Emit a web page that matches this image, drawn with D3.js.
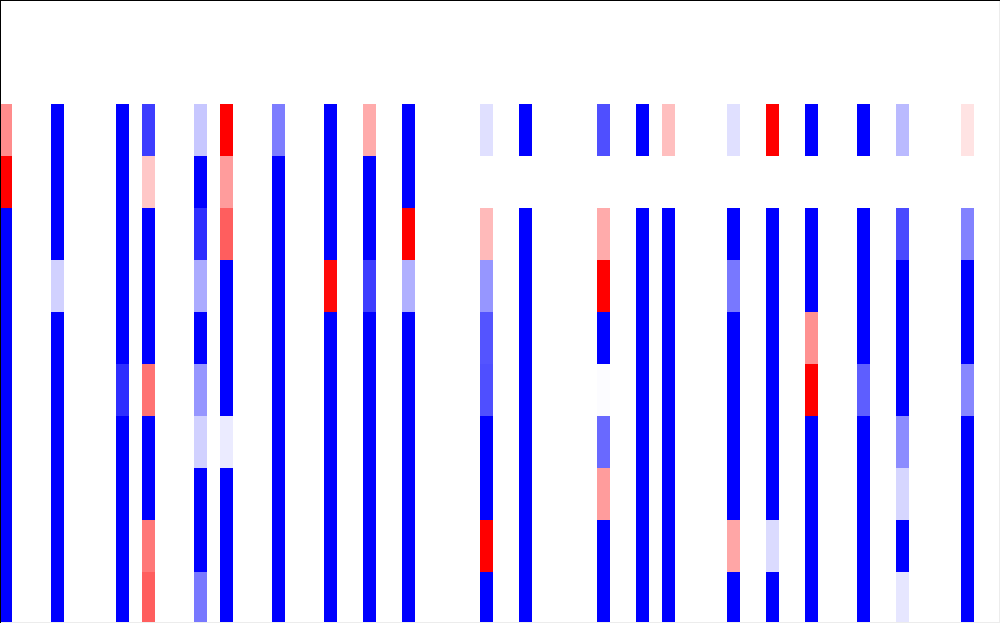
<!DOCTYPE html>
<html>
<head>
<meta charset="utf-8">
<script src="https://cdn.jsdelivr.net/npm/d3@7"></script>
<style>
  html, body { margin: 0; padding: 0; background: #fff; overflow: hidden; }
</style>
</head>
<body>
<div class="svg-content"></div>
<script>
// column slots (77 in all, most of them empty) and row slots (12)
const columnCount = 77;
const rowCount = 12;

// slots that hold data
const columns = [0, 4, 9, 11, 15, 17, 21, 25, 28, 31, 37, 40, 46, 49, 51, 56, 59, 62, 66, 69, 74];
const rows = [2, 3, 4, 5, 6, 7, 8, 9, 10, 11];

// one list per column, one value per row (null = no cell)
const values = [
  [0.45, 1, -1, -1, -1, -1, -1, -1, -1, -1],
  [-1, -1, -1, -0.18, -1, -1, -1, -1, -1, -1],
  [-1, -1, -1, -1, -1, -0.82, -1, -1, -1, -1],
  [-0.76, 0.22, -1, -1, -1, 0.55, -1, -1, 0.53, 0.63],
  [-0.22, -1, -0.82, -0.33, -1, -0.41, -0.18, -1, -1, -0.53],
  [1, 0.39, 0.63, -1, -1, -1, -0.08, -1, -1, -1],
  [-0.51, -1, -1, -1, -1, -1, -1, -1, -1, -1],
  [-1, -1, -1, 0.96, -1, -1, -1, -1, -1, -1],
  [0.33, -1, -1, -0.76, -1, -1, -1, -1, -1, -1],
  [-1, -1, 1, -0.31, -1, -1, -1, -1, -1, -1],
  [-0.12, null, 0.27, -0.41, -0.67, -0.69, -1, -1, 1, -1],
  [-1, null, -1, -1, -1, -1, -1, -1, -1, -1],
  [-0.69, null, 0.33, 1, -1, -0.01, -0.59, 0.39, -1, -1],
  [-1, null, -1, -1, -1, -1, -1, -1, -1, -1],
  [0.25, null, -1, -1, -1, -1, -1, -1, -1, -1],
  [-0.12, null, -1, -0.53, -1, -1, -1, -1, 0.35, -1],
  [1, null, -1, -1, -1, -1, -1, -1, -0.14, -1],
  [-1, null, -1, -1, 0.43, 1, -1, -1, -1, -1],
  [-1, null, -1, -1, -1, -0.63, -1, -1, -1, -1],
  [-0.27, null, -0.71, -1, -1, -1, -0.45, -0.16, -1, -0.1],
  [0.11, null, -0.49, -1, -1, -0.47, -1, -1, -1, -1]
];

const svgWidth = 1000;
const svgHeight = 623;

const cells = [];
columns.forEach((c, i) => {
  rows.forEach((r, j) => {
    if (values[i][j] !== null) cells.push({ col: c, row: r, value: values[i][j] });
  });
});

let svg = d3.select(".svg-content")
            .append("svg")
            .attr("width", svgWidth)
            .attr("height", svgHeight)
            .style("display", "block");

const xScale = d3.scaleBand()
                 .domain(d3.range(columnCount))
                 .range([-1, svgWidth]);

const yScale = d3.scaleBand()
                 .domain(d3.range(rowCount))
                 .range([0, rowCount * 52]);

const color = d3.scaleLinear()
                .domain([-1, 0, 1])
                .range(["#0000ff", "#ffffff", "#ff0000"])
                .clamp(true);

svg.selectAll("rect.cell")
   .data(cells)
   .enter()
   .append("rect")
   .attr("class", "cell")
   .attr("x", d => xScale(d.col))
   .attr("y", d => yScale(d.row))
   .attr("width", xScale.bandwidth())
   .attr("height", yScale.bandwidth())
   .attr("fill", d => color(d.value));

// frame: dark on top and left, faint on right and bottom
svg.append("line")
   .attr("x1", 0).attr("x2", svgWidth).attr("y1", 0.5).attr("y2", 0.5)
   .attr("stroke", "#000");
svg.append("line")
   .attr("x1", 0.5).attr("x2", 0.5).attr("y1", 0).attr("y2", svgHeight)
   .attr("stroke", "#000");
svg.append("line")
   .attr("x1", svgWidth - 0.5).attr("x2", svgWidth - 0.5).attr("y1", 1).attr("y2", svgHeight)
   .attr("stroke", "#ececec");
svg.append("line")
   .attr("x1", 1).attr("x2", svgWidth).attr("y1", svgHeight - 0.5).attr("y2", svgHeight - 0.5)
   .attr("stroke", "#ececec");
</script>
</body>
</html>
